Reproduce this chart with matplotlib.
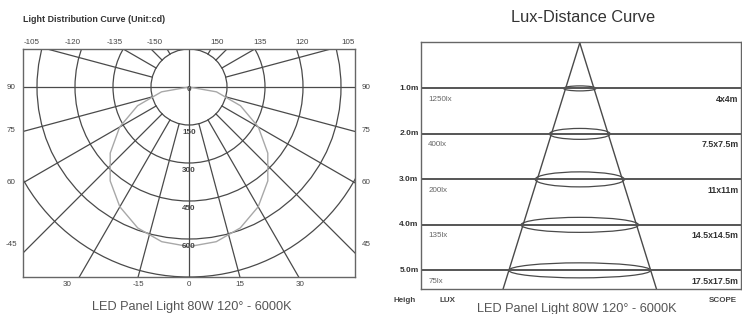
import numpy as np
import matplotlib
matplotlib.use("Agg")
import matplotlib.pyplot as plt
from matplotlib.patches import Circle, Ellipse

plt.rcParams['font.family'] = ['Liberation Sans', 'DejaVu Sans']

# ---------------- data ----------------
ring_values = [150, 300, 450, 600, 750]            # cd rings
ring_labels = ["150", "300", "450", "600"]
grid_angles = list(range(15, 180, 15))              # degrees from nadir
top_labels = ["-105", "-120", "-135", "-150", "150", "135", "120", "105"]
side_labels = ["90", "75", "60", "45"]
left_side_labels = ["90", "75", "60", "-45"]
bottom_labels = ["30", "-15", "0", "15", "30"]
curve_angles = [0, 10, 20, 30, 40, 50, 60, 70, 80, 90]
curve_cd = [630, 620, 592, 546, 484, 406, 316, 216, 110, 0]

heights = [1.0, 2.0, 3.0, 4.0, 5.0]
height_labels = ["1.0m", "2.0m", "3.0m", "4.0m", "5.0m"]
lux_labels = ["1250lx", "400lx", "200lx", "135lx", "75lx"]
scope = [4.0, 7.5, 11.0, 14.5, 17.5]
scope_labels = ["4x4m", "7.5x7.5m", "11x11m", "14.5x14.5m", "17.5x17.5m"]

caption = "LED Panel Light 80W 120° - 6000K"

W, H = 742, 314
fig = plt.figure(figsize=(W / 100, H / 100), dpi=100)
fig.patch.set_facecolor("white")

def fx(px):
    return px / W

def fy(py):
    return 1 - py / H

LC = "#4a4a4a"
TC = "#444444"

# ---------------- left: polar distribution ----------------
axL = fig.add_axes([fx(23), fy(277), fx(332), 228 / H])
axL.set_xlim(-655, 655)
axL.set_ylim(-750, 150)
axL.set_aspect("equal", adjustable="box")
axL.set_xticks([]); axL.set_yticks([])
for s in axL.spines.values():
    s.set_color("#666666"); s.set_linewidth(1.0)

for v in ring_values:
    axL.add_patch(Circle((0, 0), v, fill=False, ec=LC, lw=0.9))
for a in grid_angles:
    if a == 90:
        continue
    t = np.radians(a)
    for sgn in (-1, 1):
        axL.plot([sgn * ring_values[0] * np.sin(t), sgn * 3000 * np.sin(t)],
                 [-ring_values[0] * np.cos(t), -3000 * np.cos(t)], color=LC, lw=0.9)
axL.axhline(0, color=LC, lw=0.9)
axL.axvline(0, color=LC, lw=0.9)

# light distribution curve
ca = np.radians(np.array(curve_angles, float))
cr = np.array(curve_cd, float)
for sgn in (-1, 1):
    axL.plot(sgn * cr * np.sin(ca), -cr * np.cos(ca), color="#a8a8a8", lw=1.0)

axL.text(0, -10, "0", ha="center", va="center", fontsize=5.8, color=TC, fontweight="bold")
for v, lab in zip(ring_values, ring_labels):
    axL.text(0, -(v + 28), lab, ha="center", va="center", fontsize=5.8, color=TC, fontweight="bold")

top_px = [32, 73, 115, 155, 217, 260, 302, 348]
for px, lab in zip(top_px, top_labels):
    fig.text(fx(px), fy(42), lab, ha="center", va="center", fontsize=5.8, color=TC)
side_py = [87, 130, 183, 245]
for py, lab, lab2 in zip(side_py, left_side_labels, side_labels):
    fig.text(fx(11), fy(py), lab, ha="center", va="center", fontsize=5.8, color=TC)
    fig.text(fx(366), fy(py), lab2, ha="center", va="center", fontsize=5.8, color=TC)
bot_px = [67, 138, 189, 240, 300]
for px, lab in zip(bot_px, bottom_labels):
    fig.text(fx(px), fy(285), lab, ha="center", va="center", fontsize=5.8, color=TC)

fig.text(fx(23), fy(19), "Light Distribution Curve (Unit:cd)", ha="left", va="center",
         fontsize=6.4, fontweight="bold", color="#333333")
fig.text(fx(192), fy(307), caption, ha="center", va="center", fontsize=9.2, color="#555555")

# ---------------- right: lux-distance ----------------
axR = fig.add_axes([fx(421), fy(289), fx(320), 247 / H])
axR.set_xlim(-19.6, 19.9)
axR.set_ylim(5.41, -0.02)
axR.set_xticks([]); axR.set_yticks([])
for s in axR.spines.values():
    s.set_color("#666666"); s.set_linewidth(1.0)

ybot = 5.41
half_bot = scope[-1] / 2 * ybot / heights[-1]
axR.plot([0, -half_bot], [0, ybot], color=LC, lw=1.0)
axR.plot([0, half_bot], [0, ybot], color=LC, lw=1.0)

ell_h = [0.11, 0.24, 0.33, 0.33, 0.33]
for h, sc, eh, hl, lx, sl in zip(heights, scope, ell_h, height_labels, lux_labels, scope_labels):
    axR.axhline(h, color="#555555", lw=1.4)
    axR.add_patch(Ellipse((0, h), sc, eh, fill=False, ec=LC, lw=0.9))
    axR.text(-18.7, h + 0.24, lx, ha="left", va="center", fontsize=5.8, color="#666666")
    axR.text(19.6, h + 0.24, sl, ha="right", va="center", fontsize=6.3, color="#333333",
             fontweight="bold")
    axR.text(-19.9, h, hl, ha="right", va="center", fontsize=6.0, color="#333333",
             fontweight="bold", clip_on=False)

fig.text(fx(583), fy(17), "Lux-Distance Curve", ha="center", va="center", fontsize=11.8,
         color="#333333")
fig.text(fx(405), fy(300), "Heigh", ha="center", va="center", fontsize=5.8, fontweight="bold", color="#444444")
fig.text(fx(448), fy(300), "LUX", ha="center", va="center", fontsize=5.8, fontweight="bold", color="#444444")
fig.text(fx(723), fy(300), "SCOPE", ha="center", va="center", fontsize=5.8, fontweight="bold", color="#444444")
fig.text(fx(577), fy(309), caption, ha="center", va="center", fontsize=9.2, color="#555555")

fig.savefig("out.png", dpi=100, facecolor="white")
